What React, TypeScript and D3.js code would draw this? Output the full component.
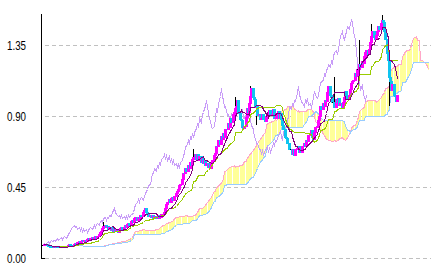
import React from "react";
import * as d3 from "d3";

// Daily closes (chikou span + candles)
const closes: number[] = [
  0.085, 0.09, 0.086, 0.082, 0.078, 0.075, 0.072, 0.07, 0.068, 0.07,
  0.069, 0.072, 0.07, 0.068, 0.071, 0.074, 0.072, 0.07, 0.073, 0.076,
  0.074, 0.08, 0.086, 0.083, 0.081, 0.08,
  0.09, 0.098, 0.09, 0.101, 0.106, 0.097, 0.11, 0.114, 0.105, 0.117,
  0.108, 0.12, 0.125, 0.113, 0.126, 0.13, 0.12, 0.134, 0.138, 0.127,
  0.142, 0.15, 0.162, 0.172, 0.188, 0.2, 0.212,
  0.196, 0.204, 0.185, 0.195, 0.178, 0.192, 0.174, 0.184, 0.168, 0.182,
  0.166, 0.178, 0.188, 0.194,
  0.182, 0.199, 0.206, 0.196, 0.214, 0.224, 0.212, 0.234, 0.242, 0.23,
  0.252, 0.258, 0.244, 0.262, 0.254, 0.275, 0.266, 0.29, 0.305, 0.318,
  0.29, 0.28, 0.264, 0.275, 0.258, 0.272, 0.252, 0.266, 0.254, 0.264,
  0.256, 0.27, 0.258, 0.276, 0.28, 0.292,
  0.315, 0.34, 0.356, 0.376, 0.356, 0.382, 0.388, 0.366, 0.394, 0.41,
  0.422, 0.44, 0.46, 0.47, 0.5, 0.54, 0.538, 0.572, 0.552, 0.59,
  0.57, 0.608, 0.588, 0.63, 0.64, 0.66,
  0.63, 0.656, 0.624, 0.646, 0.61, 0.634, 0.6, 0.62, 0.588, 0.604,
  0.575, 0.598, 0.572,
  0.61, 0.62, 0.652, 0.665, 0.712, 0.708, 0.75, 0.725, 0.772, 0.752,
  0.795, 0.77, 0.82, 0.815, 0.858, 0.832, 0.885, 0.862, 0.915, 0.925,
  0.952, 0.965, 1.0,
  0.92, 0.88, 0.872, 0.828, 0.826, 0.835,
  0.895, 0.95, 0.925, 0.985, 1.025, 1.08, 1.02, 1.01, 0.96, 0.965,
  0.905, 0.91,
  0.88, 0.885, 0.91, 0.878, 0.868, 0.9, 0.9, 0.925, 0.94, 0.905,
  0.91, 0.945, 0.888, 0.89, 0.92, 0.93, 0.888, 0.92, 0.88,
  0.84, 0.815, 0.77, 0.76, 0.73, 0.728, 0.69, 0.69, 0.662, 0.692,
  0.655, 0.69, 0.695, 0.712, 0.675, 0.705, 0.67, 0.71,
  0.728, 0.712, 0.748, 0.742, 0.78, 0.788, 0.812, 0.77, 0.752, 0.8,
  0.83, 0.836, 0.875, 0.9, 0.962, 0.945, 0.982, 0.965, 1.002, 0.995,
  1.05, 1.09, 1.03, 1.02, 0.99, 0.99, 0.96, 1.005, 0.99, 1.015,
  0.97, 0.985, 0.95, 0.99, 1.02, 1.06, 1.03, 1.012, 1.03, 1.07,
  1.11, 1.125, 1.13, 1.17, 1.155, 1.2, 1.2, 1.23, 1.21, 1.25,
  1.235, 1.28, 1.305, 1.32, 1.29, 1.325, 1.37, 1.41, 1.44, 1.4,
  1.39, 1.415, 1.44, 1.47, 1.45, 1.49, 1.51, 1.495, 1.44, 1.39,
  1.3, 1.255, 1.145, 1.12, 1.065, 1.1, 1.035, 1.025, 0.995, 1.03,
];

// Visible wick extremes [bar index, price]
const wickHighs: [number, number][] = [
  [51, 0.23], [127, 0.69], [162, 1.02], [175, 1.09], [246, 1.15],
  [267, 1.38], [277, 1.48], [286, 1.54],
];
const wickLows: [number, number][] = [[180, 0.85], [292, 0.97]];

const yTicks = [0, 0.45, 0.9, 1.35];
const yTickLabels = ["0.00", "0.45", "0.90", "1.35"];

const TENKAN = 9;
const KIJUN = 26;
const SENKOU = 52;
const SHIFT = 26;

const W = 433;
const H = 272;

export default function App() {
  const n = closes.length;
  const opens = closes.map((c, i) => (i === 0 ? c : closes[i - 1]));
  const highs = closes.map((c, i) => Math.max(c, opens[i]));
  const lows = closes.map((c, i) => Math.min(c, opens[i]));
  wickHighs.forEach(([i, v]) => (highs[i] = Math.max(highs[i], v)));
  wickLows.forEach(([i, v]) => (lows[i] = Math.min(lows[i], v)));

  const mid = (p: number, i: number) => {
    const s = Math.max(0, i - p + 1);
    const hh = d3.max(highs.slice(s, i + 1)) as number;
    const ll = d3.min(lows.slice(s, i + 1)) as number;
    return (hh + ll) / 2;
  };
  const idx = d3.range(n);
  const tenkan = idx.map((i) => mid(TENKAN, i));
  const kijun = idx.map((i) => mid(KIJUN, i));
  const spanA = idx.map((i) => (tenkan[i] + kijun[i]) / 2);
  const spanB = idx.map((i) => mid(SENKOU, i));

  const x = d3.scaleLinear().domain([0, n - 1 + SHIFT]).range([43, 428]);
  const y = d3.scaleLinear().domain([0, 1.35]).range([258, 45]);
  const px = (i: number) => Math.round(x(i));
  const py = (v: number) => Math.round(y(v));

  const line = d3
    .line<[number, number]>()
    .x((d) => px(d[0]) + 0.5)
    .y((d) => py(d[1]) + 0.5);

  const tenkanPath = line(idx.map((i) => [i, tenkan[i]]));
  const kijunPath = line(idx.map((i) => [i, kijun[i]]));
  const chikouPath = line(idx.filter((i) => i >= SHIFT).map((i) => [i - SHIFT, closes[i]]));
  const aPath = line(idx.map((i) => [i + SHIFT, spanA[i]]));
  const bPath = line(idx.map((i) => [i + SHIFT, spanB[i]]));

  return (
    <div style={{ position: "fixed", left: 0, top: 0 }}>
      <svg width={W} height={H} style={{ display: "block", background: "#fff" }}>
        {/* grid */}
        {yTicks.map((t, k) => (
          <line
            key={"g" + k}
            x1={45}
            x2={431}
            y1={py(t) + 0.5}
            y2={py(t) + 0.5}
            stroke="#c0c0c0"
            strokeDasharray="4,3"
          />
        ))}
        {/* cloud */}
        <g shapeRendering="crispEdges">
          {idx.map((i) => {
            const top = py(Math.max(spanA[i], spanB[i]));
            const bot = py(Math.min(spanA[i], spanB[i]));
            return (
              <rect
                key={"c" + i}
                x={px(i + SHIFT)}
                y={top}
                width={1}
                height={Math.max(1, bot - top + 1)}
                fill="#ffff99"
              />
            );
          })}
        </g>
        <path d={aPath || ""} fill="none" stroke="#ffa8c8" strokeWidth={1} shapeRendering="crispEdges" />
        <path d={bPath || ""} fill="none" stroke="#99ccff" strokeWidth={1} shapeRendering="crispEdges" />
        {/* chikou */}
        <path d={chikouPath || ""} fill="none" stroke="#c89cf8" strokeWidth={1} shapeRendering="crispEdges" />
        {/* candles */}
        <g shapeRendering="crispEdges">
          {idx.map((i) => {
            const cx = px(i);
            const o = opens[i];
            const c = closes[i];
            const top = py(Math.max(o, c));
            const bot = py(Math.min(o, c));
            const col = c > o ? "#ff00ff" : c < o ? "#10c4f0" : "#000000";
            return (
              <g key={"k" + i}>
                <rect x={cx} y={py(highs[i])} width={1} height={py(lows[i]) - py(highs[i]) + 1} fill="#000" />
                <rect x={cx - 1} y={top} width={3} height={Math.max(1, bot - top + 1)} fill={col} />
              </g>
            );
          })}
        </g>
        {/* tenkan / kijun */}
        <path d={kijunPath || ""} fill="none" stroke="#99cc00" strokeWidth={1} shapeRendering="crispEdges" />
        <path d={tenkanPath || ""} fill="none" stroke="#800080" strokeWidth={1} shapeRendering="crispEdges" />
        {/* axis */}
        <line x1={41.5} x2={41.5} y1={14} y2={259} stroke="#000" shapeRendering="crispEdges" />
        <line x1={41} x2={45} y1={258.5} y2={258.5} stroke="#000" shapeRendering="crispEdges" />
        {yTicks.map((t, k) => (
          <text
            key={"t" + k}
            x={7}
            y={py(t) + 5}
            fontSize={12}
            fontFamily="'Liberation Sans', Arial, sans-serif"
            textLength={19}
            lengthAdjust="spacingAndGlyphs"
            fill="#000"
          >
            {yTickLabels[k]}
          </text>
        ))}
      </svg>
    </div>
  );
}
